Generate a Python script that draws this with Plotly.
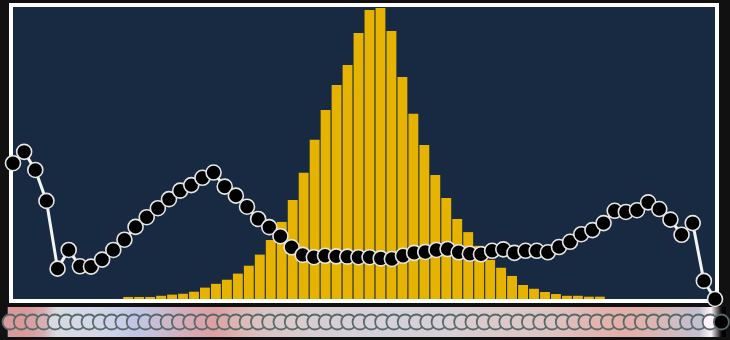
import plotly.graph_objects as go

# ---- data ----
idx = list(range(64))

bar_values = [0, 0, 0, 0, 0, 0, 0, 0, 0, 0,
              0.7, 0.7, 0.7, 1.1, 1.5, 1.8, 2.5, 3.9, 5.2, 6.6,
              8.7, 11.4, 15.2, 20.2, 26.4, 33.9, 43.2, 54.5, 64.7, 73.3,
              80.1, 91.1, 99.0, 99.7, 91.8, 76.0, 63.4, 52.7, 42.5, 34.6,
              27.4, 22.9, 18.2, 13.4, 10.7, 7.9, 4.8, 3.5, 2.4, 1.7,
              1.1, 1.1, 0.8, 0.8, 0, 0, 0, 0, 0, 0,
              0, 0, 0, 0]

line_values = [46.5, 50.4, 44.2, 33.6, 10.4, 16.8, 11.2, 11.1, 13.5, 16.8,
               20.3, 24.7, 28.0, 31.1, 34.2, 37.1, 39.0, 41.5, 43.3, 38.5,
               35.4, 31.6, 27.4, 24.6, 21.5, 17.7, 15.1, 14.3, 14.8, 14.6,
               14.5, 14.3, 14.3, 13.9, 13.7, 14.8, 15.8, 16.1, 16.8, 17.1,
               16.0, 15.5, 15.3, 16.5, 17.0, 15.8, 16.5, 16.5, 16.0, 17.8,
               19.6, 22.2, 23.6, 26.0, 30.2, 29.8, 30.4, 33.1, 30.8, 27.2,
               22.0, 26.0, 6.2, 0.0]

strip_colors = ["#d99a9c", "#da9898", "#d8a0a2", "#d6aeb6", "#d8d9e2", "#d6d9e4", "#d5d8e6", "#d3d7e6",
                "#d0d5e7", "#cdd2e8", "#c9cde7", "#c2c5e4", "#c4c3e0", "#c9bed6", "#cdb7cb", "#d2b0c0",
                "#d7aab6", "#dba4ac", "#dea0a2", "#dca8a8", "#ddb3b3", "#dcbbbb", "#dbc1c1", "#dac5c6",
                "#d9c8c9", "#d9cacc", "#d8cccf", "#d8cdd1", "#d7ced3", "#d6cfd5", "#d6d0d7", "#d5d0d8",
                "#d5d0d9", "#d5d1da", "#d4d1db", "#d5d1da", "#d6d0d8", "#d7cfd6", "#d7d0d8", "#d8cfd5",
                "#d9cdd2", "#dacbcf", "#dbcacc", "#dccac9", "#dcc8c8", "#dcc8c8", "#dcc6c6", "#dcc5c4",
                "#ddc3c1", "#dfbfbc", "#e0bcb8", "#e1b8b3", "#e2b5ae", "#e3b2aa", "#e3afa7", "#e2b0a8",
                "#e0b2ac", "#dcb4b2", "#d6b8ba", "#d0bcc4", "#c8bccc", "#c4c0d0", "#fff4fc", "#000000"]

# ---- styles ----
W, H = 730, 340
NAVY = "#182a42"
GOLD = "#e6b400"

fig = go.Figure()

fig.add_trace(go.Bar(
    x=idx, y=bar_values, xaxis="x", yaxis="y",
    marker=dict(color=GOLD, line=dict(width=0)),
    hoverinfo="skip", showlegend=False,
))

fig.add_trace(go.Scatter(
    x=idx, y=line_values, xaxis="x3", yaxis="y",
    mode="lines+markers", cliponaxis=False,
    line=dict(color="#f4f4f4", width=3),
    marker=dict(size=15, color="#000000", line=dict(color="#e6e6e6", width=1.6)),
    showlegend=False,
))

n = len(strip_colors)
colorscale = [[i / (n - 1), c] for i, c in enumerate(strip_colors)]
fig.add_trace(go.Heatmap(
    x=idx, y=[0, 1], z=[idx, idx], xaxis="x2", yaxis="y2",
    colorscale=colorscale, zmin=0, zmax=n - 1, zsmooth="best",
    showscale=False, hoverinfo="skip",
))

fig.add_trace(go.Scatter(
    x=idx, y=[0.5] * n, xaxis="x2", yaxis="y2",
    mode="markers", cliponaxis=False,
    marker=dict(size=15, color=strip_colors, line=dict(color="#586a69", width=1.8)),
    showlegend=False,
))

axis_frame = dict(showline=True, linewidth=4, linecolor="#ffffff", mirror=True,
                  showgrid=False, zeroline=False, showticklabels=False, ticks="",
                  layer="below traces", fixedrange=True)

fig.update_layout(
    template="none",
    width=W, height=H,
    margin=dict(l=0, r=0, t=0, b=0),
    paper_bgcolor="#111111", plot_bgcolor=NAVY,
    bargap=0.1,
    xaxis=dict(domain=[13 / W, 715 / W], range=[-0.5, 63.5], anchor="y", **axis_frame),
    yaxis=dict(domain=[1 - 299 / H, 1 - 7 / H], range=[0, 100], anchor="x", **axis_frame),
    xaxis3=dict(overlaying="x", range=[0, 63], visible=False, anchor="y"),
    xaxis2=dict(domain=[7.5 / W, 727 / W], range=[-0.22, 63.5], visible=False, anchor="y2"),
    yaxis2=dict(domain=[3 / H, 33 / H], range=[-0.5, 1.5], visible=False, anchor="x2"),
)

fig.write_html(
    "out.html",
    config={"displayModeBar": False},
    post_script="document.body.style.margin='0';document.body.style.background='#111111';",
)
